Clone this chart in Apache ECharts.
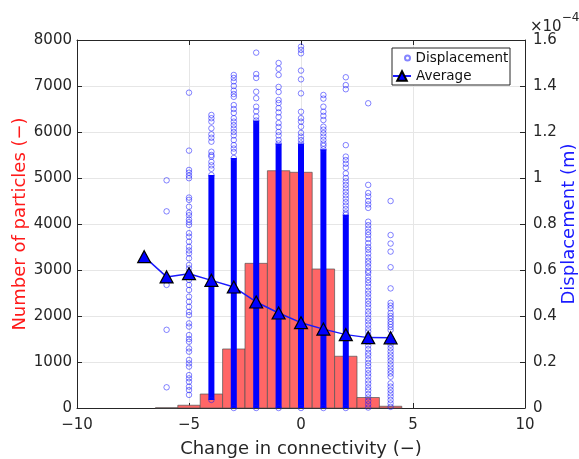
<!DOCTYPE html>
<html><head><meta charset="utf-8">
<script src="https://cdn.jsdelivr.net/npm/echarts@6/dist/echarts.min.js"></script>
<style>html,body{margin:0;padding:0;background:#fff}#c{width:579px;height:459px}</style>
</head><body><div id="c"></div><script>
// Change in connectivity (bin centres)
const connectivity = [-7, -6, -5, -4, -3, -2, -1, 0, 1, 2, 3, 4];
// Number of particles per bin (histogram)
const particleCounts = [0, 5, 60, 304, 1283, 3145, 5158, 5124, 3022, 1125, 228, 38];
// Average displacement per bin (x 1e-4 m)
const averageDisp = [0.658, 0.570, 0.584, 0.555, 0.526, 0.461, 0.413, 0.371, 0.343, 0.319, 0.306, 0.305];
// Ranges where the displacement circles are so dense that they form a solid column (x 1e-4 m)
const denseLow  = [null, null, null, 0.035, 0, 0, 0, 0, 0, 0, null, null];
const denseHigh = [null, null, null, 1.013, 1.087, 1.25, 1.15, 1.15, 1.125, 0.84, null, null];
// Individually visible displacement circles per bin (x 1e-4 m)
const dispM7 = [0.658];
const dispM6 = [0.99, 0.855, 0.535, 0.34, 0.09];
const dispM5 = [1.371, 1.119, 1.035, 1.023, 1.01, 0.999, 0.915, 0.905, 0.875, 0.849, 0.838, 0.82, 0.808, 0.796, 0.76, 0.745, 0.723, 0.701, 0.685, 0.672, 0.651, 0.622, 0.607, 0.59, 0.578, 0.557, 0.535, 0.513, 0.484, 0.462, 0.44, 0.418, 0.404, 0.368, 0.354, 0.317, 0.30, 0.288, 0.259, 0.245, 0.209, 0.194, 0.18, 0.143, 0.129, 0.114, 0.093, 0.078, 0.057];
const dispM4 = [1.274, 1.26, 1.245, 1.216, 1.19, 1.175, 1.158, 1.114, 1.10, 1.093, 1.07, 1.055, 1.04, 1.013, 0.035];
const dispM3 = [1.448, 1.435, 1.42, 1.40, 1.38, 1.365, 1.353, 1.317, 1.30, 1.283, 1.26, 1.245, 1.23, 1.215, 1.20, 1.185, 1.165, 1.143, 1.128, 1.113, 1.087, 0];
const dispM2 = [1.545, 1.452, 1.435, 1.375, 1.347, 1.31, 1.29, 1.267, 1.25, 0];
const dispM1 = [1.50, 1.475, 1.448, 1.396, 1.374, 1.339, 1.326, 1.304, 1.285, 1.265, 1.239, 1.222, 1.20, 1.185, 1.165, 1.15, 0];
const disp0 = [1.571, 1.557, 1.542, 1.467, 1.429, 1.368, 1.288, 1.26, 1.245, 1.223, 1.196, 1.18, 1.165, 1.15, 0];
const disp1 = [1.361, 1.345, 1.31, 1.288, 1.27, 1.252, 1.223, 1.21, 1.195, 1.18, 1.165, 1.15, 1.14, 1.125, 0];
const disp2 = [1.438, 1.404, 1.386, 1.143, 1.093, 1.078, 1.062, 1.045, 1.02, 1.0, 0.985, 0.97, 0.955, 0.94, 0.925, 0.91, 0.895, 0.88, 0.865, 0.85, 0.84, 0];
const disp3 = [1.325, 0.97, 0.935, 0.92, 0.90, 0.885, 0.87, 0.81, 0.795, 0.78, 0.765, 0.752, 0.735, 0.717, 0.70, 0.688, 0.672, 0.655, 0.64, 0.628, 0.613, 0.597, 0.587, 0.57, 0.556, 0.543, 0.527, 0.51, 0.497, 0.481, 0.466, 0.452, 0.437, 0.42, 0.407, 0.39, 0.377, 0.362, 0.346, 0.333, 0.317, 0.30, 0.286, 0.272, 0.256, 0.24, 0.228, 0.212, 0.196, 0.182, 0.166, 0.151, 0.137, 0.12, 0.106, 0.09, 0.077, 0.061, 0.046, 0.031, 0.016, 0.002];
const disp4 = [0.90, 0.752, 0.715, 0.68, 0.612, 0.52, 0.457, 0.445, 0.433, 0.413, 0.40, 0.388, 0.375, 0.364, 0.352, 0.339, 0.288, 0.275, 0.261, 0.246, 0.232, 0.219, 0.205, 0.19, 0.176, 0.162, 0.15, 0.136, 0.107, 0.093, 0.078, 0.064, 0.05, 0.035, 0.02, 0.005];
const dispColumns = [dispM7, dispM6, dispM5, dispM4, dispM3, dispM2, dispM1, disp0, disp1, disp2, disp3, disp4];
// Tick labels
const xTicks = [-10, -5, 0, 5, 10];
const countTicks = [0, 1000, 2000, 3000, 4000, 5000, 6000, 7000, 8000];
const dispTicks = [0, 0.2, 0.4, 0.6, 0.8, 1.0, 1.2, 1.4, 1.6];

const FONT = '"DejaVu Sans", sans-serif';
const AX = '#262626';

const histData = connectivity.map((x, i) => [x, particleCounts[i]]).filter(d => d[1] > 0);
const denseData = [];
connectivity.forEach((x, i) => { if (denseHigh[i] != null) denseData.push([x, denseLow[i], denseHigh[i]]); });
const scatterData = [];
dispColumns.forEach((col, i) => col.forEach(v => scatterData.push([connectivity[i], v])));
const avgData = connectivity.map((x, i) => [x, averageDisp[i]]);

const chart = echarts.init(document.getElementById('c'), null, {renderer: 'canvas'});
const tickStyle = {color: AX, fontSize: 15, fontFamily: FONT};
const legendText = {color: '#111', fontSize: 13.5, fontFamily: FONT, lineHeight: 18};
chart.setOption({
  animation: false,
  backgroundColor: '#fff',
  grid: {left: 77, right: 54, top: 40, bottom: 51, show: false, outerBoundsMode: 'none', containLabel: false},
  legend: [{
    data: ['Displacement'], left: 404, top: 49, padding: 0, z: 20,
    itemWidth: 6, itemHeight: 5, textStyle: legendText
  }, {
    data: ['Average'], left: 392, top: 67, padding: 0, z: 20,
    itemWidth: 18, itemHeight: 12, textStyle: legendText
  }],
  xAxis: [{
    type: 'value', min: xTicks[0], max: xTicks[xTicks.length - 1], interval: xTicks[1] - xTicks[0],
    name: 'Change in connectivity (−)', nameLocation: 'middle', nameGap: 32, nameMoveOverlap: false,
    nameTextStyle: {color: AX, fontSize: 18, fontFamily: FONT},
    axisLine: {show: true, onZero: false, lineStyle: {color: AX}},
    axisTick: {show: true, inside: true, length: 5, lineStyle: {color: AX}},
    axisLabel: {...tickStyle, margin: 10, formatter: v => String(v).replace('-', '−')},
    splitLine: {show: true, lineStyle: {color: '#e6e6e6'}}
  }, {
    type: 'value', position: 'top', min: xTicks[0], max: xTicks[xTicks.length - 1], interval: xTicks[1] - xTicks[0],
    axisLine: {show: true, onZero: false, lineStyle: {color: AX}},
    axisTick: {show: true, inside: true, length: 5, lineStyle: {color: AX}},
    axisLabel: {show: false}, splitLine: {show: false}
  }],
  yAxis: [{
    type: 'value', min: countTicks[0], max: countTicks[countTicks.length - 1], interval: countTicks[1] - countTicks[0],
    name: 'Number of particles (−)', nameLocation: 'middle', nameGap: 48, nameMoveOverlap: false,
    nameTextStyle: {color: '#ff1a1a', fontSize: 18, fontFamily: FONT},
    axisLine: {show: true, onZero: false, lineStyle: {color: AX}},
    axisTick: {show: true, inside: true, length: 5, lineStyle: {color: AX}},
    axisLabel: {...tickStyle, margin: 5, formatter: v => String(v)},
    splitLine: {show: true, lineStyle: {color: '#e6e6e6'}}
  }, {
    type: 'value', position: 'right', min: dispTicks[0], max: dispTicks[dispTicks.length - 1], interval: 0.2,
    name: 'Displacement (m)', nameLocation: 'middle', nameGap: 35, nameMoveOverlap: false,
    nameTextStyle: {color: '#1a1aff', fontSize: 18, fontFamily: FONT},
    axisLine: {show: true, onZero: false, lineStyle: {color: AX}},
    axisTick: {show: true, inside: true, length: 5, lineStyle: {color: AX}},
    axisLabel: {...tickStyle, margin: 8, formatter: v => String(+v.toFixed(1))},
    splitLine: {show: false}
  }],
  graphic: [{
    type: 'rect', z: 10, shape: {x: 392, y: 48, width: 118, height: 37},
    style: {fill: '#fff', stroke: AX, lineWidth: 1}
  }, {
    type: 'text', left: 530, top: 12, z: 100,
    style: {
      text: '{a|×10}{b|−4}',
      rich: {
        a: {fontSize: 15, fontFamily: FONT, fill: AX, padding: [8, 0, 0, 0]},
        b: {fontSize: 12, fontFamily: FONT, fill: AX, verticalAlign: 'top', padding: [0, 0, 8, 0]}
      }
    }
  }],
  series: [{
    name: 'Count', type: 'custom', xAxisIndex: 0, yAxisIndex: 0, z: 1,
    data: histData, encode: {x: 0, y: 1},
    renderItem: (params, api) => {
      const x = api.value(0), c = api.value(1);
      const p0 = api.coord([x - 0.5, c]);
      const p1 = api.coord([x + 0.5, 0]);
      return {type: 'rect', shape: {x: p0[0], y: p0[1], width: p1[0] - p0[0], height: p1[1] - p0[1]},
        style: {fill: '#ff6666', stroke: '#555', lineWidth: 0.7}};
    }
  }, {
    name: 'Dense', type: 'custom', xAxisIndex: 0, yAxisIndex: 1, z: 3,
    data: denseData, encode: {x: 0, y: [1, 2]},
    renderItem: (params, api) => {
      const x = api.value(0), lo = api.value(1), hi = api.value(2);
      const a = api.coord([x, hi]);
      const b = api.coord([x, lo]);
      return {type: 'rect', shape: {x: a[0] - 3, y: a[1], width: 6, height: b[1] - a[1]},
        style: {fill: '#0000ff'}};
    }
  }, {
    name: 'Displacement', type: 'scatter', xAxisIndex: 0, yAxisIndex: 1, z: 4,
    data: scatterData, symbol: 'circle', symbolSize: 5.5,
    itemStyle: {color: 'rgba(255,255,255,0)', borderColor: 'rgba(20,20,255,0.65)', borderWidth: 1}
  }, {
    name: 'Average', type: 'line', xAxisIndex: 0, yAxisIndex: 1, z: 6,
    data: avgData, symbol: 'triangle', symbolSize: [13, 12], smooth: false,
    lineStyle: {color: '#1a1aff', width: 1.5},
    itemStyle: {color: '#0000ff', borderColor: '#000', borderWidth: 1.2}
  }]
});
</script></body></html>
